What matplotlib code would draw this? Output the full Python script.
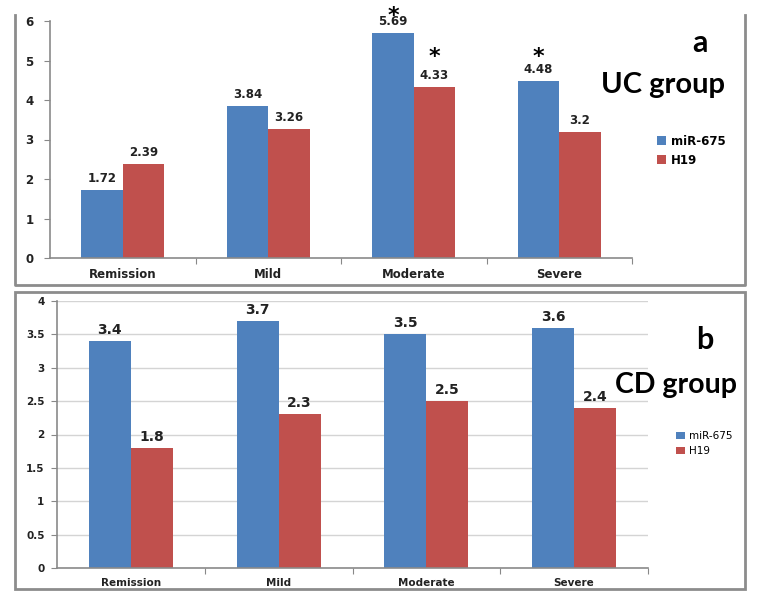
import matplotlib
matplotlib.use('agg')
import matplotlib.pyplot as plt
import numpy as np
from matplotlib.patches import Rectangle
from matplotlib.lines import Line2D

categories = ['Remission', 'Mild', 'Moderate', 'Severe']
series = ['miR-675', 'H19']
uc_mir = [1.72, 3.84, 5.69, 4.48]
uc_h19 = [2.39, 3.26, 4.33, 3.2]
cd_mir = [3.4, 3.7, 3.5, 3.6]
cd_h19 = [1.8, 2.3, 2.5, 2.4]
# significance stars in the UC panel: (category index, series index)
uc_stars = [(2, 0), (2, 1), (3, 0)]

blue = '#4F81BD'
red = '#C0504D'
W, H = 762, 599

fig = plt.figure(figsize=(W / 100, H / 100), dpi=100)

def fx(px):
    return px / W

def fy(py):
    return 1 - py / H

# panel frames (pixel coords)
frame_col = '#8c8c8c'
fig.add_artist(Line2D([fx(15), fx(15), fx(745), fx(745)],
                      [fy(15), fy(285), fy(285), fy(15)], color=frame_col, lw=2))
fig.add_artist(Rectangle((fx(15), fy(589)), fx(745) - fx(15), fy(292) - fy(589),
                         fill=False, edgecolor=frame_col, lw=2))


def draw_panel(ax, mir, h19, ymax, ystep, grid, lab_fs, tick_fs, val_fs, val_off, ypad):
    x = np.arange(len(categories))
    bw = 0.285
    b1 = ax.bar(x - bw / 2, mir, bw, color=blue, label=series[0])
    b2 = ax.bar(x + bw / 2, h19, bw, color=red, label=series[1])
    ax.set_xlim(-0.5, len(categories) - 0.5)
    ax.set_ylim(0, ymax)
    ax.set_yticks(np.arange(0, ymax + 0.001, ystep))
    ax.set_yticklabels([('%g' % v) for v in np.arange(0, ymax + 0.001, ystep)],
                       fontsize=tick_fs, fontweight='bold', color='#222222')
    ax.set_xticks(np.arange(0.5, len(categories) - 0.4, 1.0))
    ax.set_xticklabels([])
    ax.set_xticks(x, minor=True)
    ax.set_xticklabels(categories, minor=True, fontsize=lab_fs, fontweight='bold',
                       color='#222222')
    ax.tick_params(axis='x', which='major', length=4, color='#888888', direction='out')
    ax.tick_params(axis='x', which='minor', length=0, pad=7)
    ax.tick_params(axis='y', length=4, color='#888888', pad=ypad)
    for s in ['top', 'right']:
        ax.spines[s].set_visible(False)
    for s in ['left', 'bottom']:
        ax.spines[s].set_color('#8a8a8a')
        ax.spines[s].set_linewidth(1.2)
    if grid:
        ax.yaxis.grid(True, color='#d4d4d4', lw=1)
        ax.set_axisbelow(True)
    for bars, vals in ((b1, mir), (b2, h19)):
        for r, v in zip(bars, vals):
            ax.annotate('%g' % v, (r.get_x() + r.get_width() / 2, v),
                        xytext=(0, val_off), textcoords='offset points',
                        ha='center', va='bottom', fontsize=val_fs,
                        fontweight='bold', color='#222222')
    return b1, b2


ax1 = fig.add_axes([fx(50), fy(258), fx(632) - fx(50), fy(21) - fy(258)])
ax1.patch.set_alpha(0)
draw_panel(ax1, uc_mir, uc_h19, 6, 1, False, 8.5, 8.5, 8.5, 3.5, 8)
vals = [uc_mir, uc_h19]
star_off = {(2, 0): 8, (2, 1): 17, (3, 0): 13}
for ci, si in uc_stars:
    xc = ci + (-0.285 / 2 if si == 0 else 0.285 / 2)
    ax1.annotate('*', (xc, vals[si][ci]), xytext=(0, star_off[(ci, si)]),
                 textcoords='offset points', ha='center', va='baseline',
                 fontsize=16, fontweight='bold', annotation_clip=False)
fig.text(fx(700), fy(43), 'a', fontsize=22, fontweight='bold', family='Lato',
         ha='center', va='center')
fig.text(fx(663), fy(85), 'UC group', fontsize=21, fontweight='bold', family='Lato',
         ha='center', va='center')
ax1.legend(loc='upper left', bbox_to_anchor=(fx(651), fy(129)), bbox_transform=fig.transFigure,
           frameon=False, handlelength=0.8, handleheight=0.8,
           handletextpad=0.4, labelspacing=0.5, prop={'weight': 'bold', 'size': 8.5},
           borderpad=0)

ax2 = fig.add_axes([fx(57), fy(568), fx(648) - fx(57), fy(301) - fy(568)])
ax2.patch.set_alpha(0)
draw_panel(ax2, cd_mir, cd_h19, 4, 0.5, True, 7.5, 7.5, 10, 3, 5)
fig.text(fx(705), fy(340), 'b', fontsize=22, fontweight='bold', family='Lato',
         ha='center', va='center')
fig.text(fx(676), fy(385), 'CD group', fontsize=20.5, fontweight='bold', family='Lato',
         ha='center', va='center')
ax2.legend(loc='upper left', bbox_to_anchor=(fx(671), fy(426)), bbox_transform=fig.transFigure,
           frameon=False, handlelength=0.8, handleheight=0.7,
           handletextpad=0.4, labelspacing=0.5, prop={'size': 7.5},
           borderpad=0)

fig.savefig('out.png', dpi=100)
